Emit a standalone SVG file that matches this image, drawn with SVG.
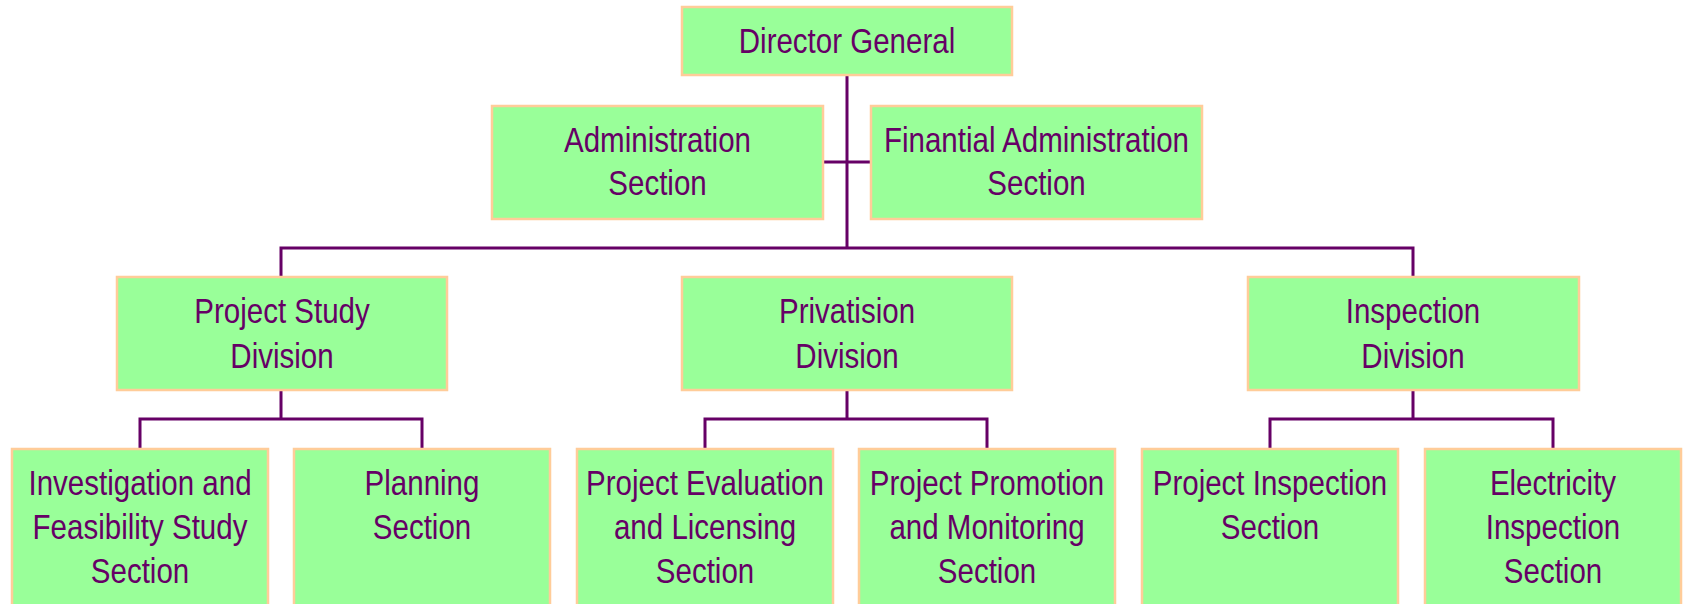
<svg xmlns="http://www.w3.org/2000/svg" width="1688" height="604" viewBox="0 0 1688 604">
<style>
.box{fill:#99FF99;stroke:#FFCC99;stroke-width:2.5}
.lbl{font-family:"Liberation Sans",Arial,sans-serif;font-size:36px;fill:#660066;text-anchor:middle}
.con{fill:none;stroke:#660066;stroke-width:3}
</style>
<rect width="1688" height="604" fill="#ffffff"/>
<g id="connectors">
<path class="con" d="M847 75V248M823 162H871M281 277V248H1413V277"/>
<path class="con" d="M281 390V419M140 449V419H422V449"/>
<path class="con" d="M847 390V419M705 449V419H987V449"/>
<path class="con" d="M1413 390V419M1270 449V419H1553V449"/>
</g>
<g id="director-general">
<rect class="box" x="682" y="7" width="330" height="68"/>
<g transform="translate(847,0) scale(0.82,1)"><text class="lbl" x="0" y="53">Director General</text></g>
</g>
<g id="administration-section">
<rect class="box" x="492" y="106" width="331" height="113"/>
<g transform="translate(657.5,0) scale(0.82,1)"><text class="lbl" x="0" y="152">Administration</text><text class="lbl" x="0" y="195">Section</text></g>
</g>
<g id="financial-administration-section">
<rect class="box" x="871" y="106" width="331" height="113"/>
<g transform="translate(1036.5,0) scale(0.82,1)"><text class="lbl" x="0" y="152">Finantial Administration</text><text class="lbl" x="0" y="195">Section</text></g>
</g>
<g id="project-study-division">
<rect class="box" x="117" y="277" width="330" height="113"/>
<g transform="translate(282,0) scale(0.82,1)"><text class="lbl" x="0" y="323">Project Study</text><text class="lbl" x="0" y="368">Division</text></g>
</g>
<g id="privatision-division">
<rect class="box" x="682" y="277" width="330" height="113"/>
<g transform="translate(847,0) scale(0.82,1)"><text class="lbl" x="0" y="323">Privatision</text><text class="lbl" x="0" y="368">Division</text></g>
</g>
<g id="inspection-division">
<rect class="box" x="1248" y="277" width="331" height="113"/>
<g transform="translate(1413,0) scale(0.82,1)"><text class="lbl" x="0" y="323">Inspection</text><text class="lbl" x="0" y="368">Division</text></g>
</g>
<g id="investigation-feasibility-section">
<rect class="box" x="12" y="449" width="256" height="170"/>
<g transform="translate(140,0) scale(0.82,1)"><text class="lbl" x="0" y="495">Investigation and</text><text class="lbl" x="0" y="539">Feasibility Study</text><text class="lbl" x="0" y="583">Section</text></g>
</g>
<g id="planning-section">
<rect class="box" x="294" y="449" width="256" height="170"/>
<g transform="translate(422,0) scale(0.82,1)"><text class="lbl" x="0" y="495">Planning</text><text class="lbl" x="0" y="539">Section</text></g>
</g>
<g id="project-evaluation-section">
<rect class="box" x="577" y="449" width="256" height="170"/>
<g transform="translate(705,0) scale(0.82,1)"><text class="lbl" x="0" y="495">Project Evaluation</text><text class="lbl" x="0" y="539">and Licensing</text><text class="lbl" x="0" y="583">Section</text></g>
</g>
<g id="project-promotion-section">
<rect class="box" x="859" y="449" width="256" height="170"/>
<g transform="translate(987,0) scale(0.82,1)"><text class="lbl" x="0" y="495">Project Promotion</text><text class="lbl" x="0" y="539">and Monitoring</text><text class="lbl" x="0" y="583">Section</text></g>
</g>
<g id="project-inspection-section">
<rect class="box" x="1142" y="449" width="256" height="170"/>
<g transform="translate(1270,0) scale(0.82,1)"><text class="lbl" x="0" y="495">Project Inspection</text><text class="lbl" x="0" y="539">Section</text></g>
</g>
<g id="electricity-inspection-section">
<rect class="box" x="1425" y="449" width="256" height="170"/>
<g transform="translate(1553,0) scale(0.82,1)"><text class="lbl" x="0" y="495">Electricity</text><text class="lbl" x="0" y="539">Inspection</text><text class="lbl" x="0" y="583">Section</text></g>
</g>
</svg>
